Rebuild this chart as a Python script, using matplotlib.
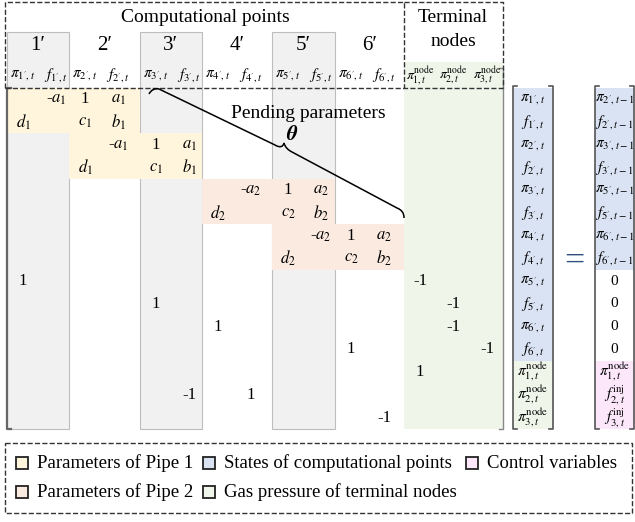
import matplotlib.pyplot as plt
from matplotlib.patches import Rectangle, PathPatch
from matplotlib.path import Path

plt.rcParams['font.family'] = ['Liberation Serif', 'DejaVu Serif']
plt.rcParams['mathtext.fontset'] = 'stix'

# column groups of the coefficient matrix
groups = ["1'", "2'", "3'", "4'", "5'", "6'"]
group_edges = [7, 69, 140, 202, 272, 335, 404, 503]
gray_groups = [0, 2, 4]

sub_labels = [r"$\pi_{1',t}$", r"$f_{1',t}$", r"$\pi_{2',t}$", r"$f_{2',t}$",
              r"$\pi_{3',t}$", r"$f_{3',t}$", r"$\pi_{4',t}$", r"$f_{4',t}$",
              r"$\pi_{5',t}$", r"$f_{5',t}$", r"$\pi_{6',t}$", r"$f_{6',t}$",
              r"$\pi_{1,t}^{\mathrm{node}}$", r"$\pi_{2,t}^{\mathrm{node}}$",
              r"$\pi_{3,t}^{\mathrm{node}}$"]

# non-zero entries: (row, col, text)
entries = [
    (0, 1, r"-$a_1$"), (0, 2, "1"), (0, 3, r"$a_1$"),
    (1, 0, r"$d_1$"), (1, 2, r"$c_1$"), (1, 3, r"$b_1$"),
    (2, 3, r"-$a_1$"), (2, 4, "1"), (2, 5, r"$a_1$"),
    (3, 2, r"$d_1$"), (3, 4, r"$c_1$"), (3, 5, r"$b_1$"),
    (4, 7, r"-$a_2$"), (4, 8, "1"), (4, 9, r"$a_2$"),
    (5, 6, r"$d_2$"), (5, 8, r"$c_2$"), (5, 9, r"$b_2$"),
    (6, 9, r"-$a_2$"), (6, 10, "1"), (6, 11, r"$a_2$"),
    (7, 8, r"$d_2$"), (7, 10, r"$c_2$"), (7, 11, r"$b_2$"),
    (8, 0, "1"), (8, 12, "-1"),
    (9, 4, "1"), (9, 13, "-1"),
    (10, 6, "1"), (10, 13, "-1"),
    (11, 10, "1"), (11, 14, "-1"),
    (12, 12, "1"),
    (13, 5, "-1"), (13, 7, "1"),
    (14, 11, "-1"),
]

# shaded blocks: (row0, row1, col0, col1)
pipe1_blocks = [(0, 2, 0, 4), (2, 4, 2, 6)]
pipe2_blocks = [(4, 6, 6, 10), (6, 8, 8, 12)]

state_vec = sub_labels
rhs_vec = [r"$\pi_{2',t-1}$", r"$f_{2',t-1}$", r"$\pi_{3',t-1}$", r"$f_{3',t-1}$",
           r"$\pi_{5',t-1}$", r"$f_{5',t-1}$", r"$\pi_{6',t-1}$", r"$f_{6',t-1}$",
           "0", "0", "0", "0",
           r"$\pi_{1,t}^{\mathrm{node}}$", r"$f_{2,t}^{\mathrm{inj}}$", r"$f_{3,t}^{\mathrm{inj}}$"]
state_colors = ['blue'] * 12 + ['green'] * 3
rhs_colors = ['blue'] * 8 + ['white'] * 4 + ['pink'] * 3

legend_items = [("Parameters of Pipe 1", 'yellow'), ("States of computational points", 'blue'),
                ("Control variables", 'pink'), ("Parameters of Pipe 2", 'orange'),
                ("Gas pressure of terminal nodes", 'green')]

cols = {'gray': '#f1f1f1', 'yellow': '#fff4dc', 'orange': '#fbeadf',
        'green': '#f0f5ea', 'blue': '#dae3f3', 'pink': '#fbe6fa', 'white': 'white'}

fig = plt.figure(figsize=(6.35, 5.22), dpi=100)
ax = fig.add_axes([0, 0, 1, 1])
ax.set_xlim(0, 635)
ax.set_ylim(522, 0)
ax.axis('off')

top, bot = 88, 429
nrows = 15
rh = (bot - top) / nrows


def col_x(c):
    if c < 12:
        g = c // 2
        return group_edges[g] + (16 if c % 2 == 0 else 49)
    return 404 + 16 + 33.5 * (c - 12)


def col_edge(c):
    return group_edges[c // 2]


def row_y(r):
    return top + rh * (r + 0.5)


# gray columns (header + matrix)
for g in gray_groups:
    x0, x1 = group_edges[g], group_edges[g + 1]
    ax.add_patch(Rectangle((x0, 32), x1 - x0, bot - 32, fc=cols['gray'], ec='#bdbdbd', lw=0.8, zorder=1))

# terminal nodes column
ax.add_patch(Rectangle((404, 62), 99, bot - 62, fc=cols['green'], ec='none', zorder=1))

for blocks, key in [(pipe1_blocks, 'yellow'), (pipe2_blocks, 'orange')]:
    for r0, r1, c0, c1 in blocks:
        x0 = col_edge(c0)
        x1 = group_edges[c1 // 2]
        ax.add_patch(Rectangle((x0, top + rh * r0), x1 - x0, rh * (r1 - r0), fc=cols[key], ec='none', zorder=2))

# matrix brackets
ax.plot([11, 7, 7, 11], [top, top, bot, bot], color='#666666', lw=1.6, zorder=3)
ax.plot([499, 503, 503, 499], [top - 20, top - 20, bot, bot], color='#888888', lw=1.0, zorder=3)

# dashed header boxes
ax.plot([5, 5, 404, 404], [88, 2, 2, 88], ls='--', color='#333333', lw=1.0, zorder=4)
ax.plot([404, 503, 503], [2, 2, 88], ls='--', color='#333333', lw=1.0, zorder=4)
ax.plot([5, 503], [88, 88], ls='--', color='#333333', lw=1.0, zorder=4)

ax.text(205, 18, "Computational points", ha='center', va='center', fontsize=14)
ax.text(453, 17, "Terminal", ha='center', va='center', fontsize=14)
ax.text(453, 41, "nodes", ha='center', va='center', fontsize=14)

for g, name in enumerate(groups):
    ax.text((group_edges[g] + group_edges[g + 1]) / 2, 46, name.replace("'", "\u2032"),
            ha='center', va='center', fontsize=15)

for c, lab in enumerate(sub_labels):
    ax.text(col_x(c), 75, lab, ha='center', va='center', fontsize=11 if c < 12 else 10)

for r, c, t in entries:
    ax.text(col_x(c), row_y(r), t, ha='center', va='center', fontsize=12, zorder=5)

# pending parameters brace
verts = [(149, 94), (151, 90), (155, 88), (159, 89),
         (275, 145),
         (280, 148), (283, 147), (284, 143),
         (285, 147), (288, 150), (292, 152),
         (397, 208),
         (402, 210), (404, 213), (404, 218)]
codes = [Path.MOVETO, Path.CURVE4, Path.CURVE4, Path.CURVE4,
         Path.LINETO,
         Path.CURVE4, Path.CURVE4, Path.CURVE4,
         Path.CURVE4, Path.CURVE4, Path.CURVE4,
         Path.LINETO,
         Path.CURVE4, Path.CURVE4, Path.CURVE4]
ax.add_patch(PathPatch(Path(verts, codes), fc='none', ec='black', lw=1.1, zorder=6))
ax.text(308, 113, "Pending parameters", ha='center', va='center', fontsize=14, zorder=6)
ax.text(292, 136, r"$\boldsymbol{\theta}$", ha='center', va='center', fontsize=15, zorder=6)

# state vector and right-hand side
for x0, vec, ccs in [(513, state_vec, state_colors), (595, rhs_vec, rhs_colors)]:
    w = 40 if x0 == 513 else 39
    for r, (lab, cc) in enumerate(zip(vec, ccs)):
        ax.add_patch(Rectangle((x0, top + rh * r), w, rh, fc=cols[cc], ec='none', zorder=1))
        ax.text(x0 + w / 2, row_y(r), lab, ha='center', va='center', fontsize=11, zorder=5)
    ax.plot([x0 + 4, x0, x0, x0 + 4], [top - 2, top - 2, bot, bot], color='#555555', lw=1.2, zorder=3)
    ax.plot([x0 + w - 4, x0 + w, x0 + w, x0 + w - 4], [top - 2, top - 2, bot, bot], color='#555555', lw=1.2, zorder=3)

ax.text(574, 262, "=", ha='center', va='center', fontsize=26, color='#2f4f7f')

# legend box
ax.plot([5, 632, 632, 5, 5], [443, 443, 513, 513, 443], ls='--', color='#333333', lw=1.0)
leg_pos = [(16, 463), (203, 463), (466, 463), (16, 492), (203, 492)]
for (lab, key), (lx, ly) in zip(legend_items, leg_pos):
    ax.add_patch(Rectangle((lx, ly - 6), 12, 12, fc=cols[key], ec='#222222', lw=1.3))
    ax.text(lx + 21, ly, lab, ha='left', va='center', fontsize=13.5)

fig.savefig("out.png", dpi=100)
